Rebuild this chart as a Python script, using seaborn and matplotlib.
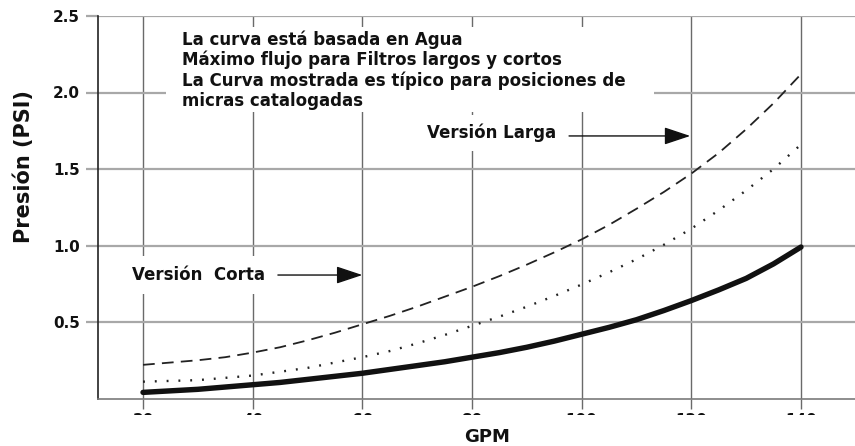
import numpy as np
import pandas as pd
import matplotlib
matplotlib.use("Agg")
import matplotlib.pyplot as plt
from matplotlib.patches import Rectangle
import seaborn as sns

# ---- data ----
gpm = [20, 25, 30, 35, 40, 45, 50, 55, 60, 65, 70, 75, 80,
       85, 90, 95, 100, 105, 110, 115, 120, 125, 130, 135, 140]
larga = [0.220, 0.235, 0.250, 0.270, 0.300, 0.335, 0.380, 0.430, 0.485, 0.540,
         0.600, 0.665, 0.730, 0.800, 0.875, 0.955, 1.040, 1.135, 1.240, 1.350,
         1.470, 1.605, 1.760, 1.930, 2.120]
media = [0.110, 0.115, 0.120, 0.135, 0.150, 0.175, 0.200, 0.235, 0.270, 0.310,
         0.360, 0.415, 0.475, 0.535, 0.600, 0.670, 0.745, 0.825, 0.910, 1.005,
         1.110, 1.230, 1.360, 1.500, 1.660]
corta = [0.040, 0.050, 0.060, 0.075, 0.090, 0.105, 0.125, 0.145, 0.165, 0.190,
         0.215, 0.240, 0.270, 0.300, 0.335, 0.375, 0.420, 0.465, 0.515, 0.575,
         0.640, 0.710, 0.785, 0.880, 0.990]
x_ticks = [20, 40, 60, 80, 100, 120, 140]
y_ticks = [0.5, 1.0, 1.5, 2.0, 2.5]
y_ticklabels = ["0.5", "1.0", "1.5", "2.0", "2.5"]
note = ("La curva está basada en Agua\n"
        "Máximo flujo para Filtros largos y cortos\n"
        "La Curva mostrada es típico para posiciones de\n"
        "micras catalogadas")

sns.set_style("white")
plt.rcParams["font.family"] = ["DejaVu Sans"]
plt.rcParams["font.weight"] = "bold"

W, H = 855, 446
fig = plt.figure(figsize=(W / 100, H / 100), dpi=100)
fig.patch.set_facecolor("white")
ax = fig.add_axes([98 / W, (H - 398.5) / H, 757 / W, 382.5 / H])

df = pd.DataFrame({"gpm": gpm, "larga": larga, "media": media, "corta": corta})

sns.lineplot(data=df, x="gpm", y="larga", ax=ax, color="#222222", lw=1.3, zorder=4)
ax.lines[-1].set_dashes([6.5, 4])
sns.lineplot(data=df, x="gpm", y="media", ax=ax, color="#222222", lw=1.7, zorder=4)
ax.lines[-1].set_dashes([0.8, 4.2])
sns.lineplot(data=df, x="gpm", y="corta", ax=ax, color="#111111", lw=3.9, zorder=4)
ax.lines[-1].set_solid_capstyle("round")
ax.lines[-1].set_solid_joinstyle("round")

ax.set_xlim(11.79, 149.85)
ax.set_ylim(0, 2.5)
ax.set_xticks(x_ticks)
ax.set_xticklabels([str(v) for v in x_ticks], fontsize=11, fontweight="bold")
ax.set_yticks(y_ticks)
ax.set_yticklabels(y_ticklabels, fontsize=11, fontweight="bold")
ax.set_xlabel("")
ax.set_ylabel("")

ax.set_axisbelow(True)
ax.xaxis.grid(True, color="#6a6a6a", lw=1.0)
ax.yaxis.grid(True, color="#a8a8a8", lw=1.6)
ax.tick_params(axis="y", length=8.6, width=1.6, color="#a8a8a8", pad=4.3,
               left=True, labelcolor="#111111")
ax.tick_params(axis="x", length=7.2, width=1.0, color="#6a6a6a", pad=2.9,
               bottom=True, labelcolor="#111111")

for s in ["top", "right"]:
    ax.spines[s].set_visible(False)
ax.spines["left"].set_color("#222222")
ax.spines["left"].set_linewidth(1.2)
ax.spines["bottom"].set_color("#7a7a7a")
ax.spines["bottom"].set_linewidth(1.2)

# white panel behind the note
ax.add_patch(Rectangle((0.0898, 0.749), 0.6447, 0.222, transform=ax.transAxes,
                       facecolor="white", edgecolor="none", zorder=2.5))
ax.text(27.1, 2.405, note, fontsize=12, fontweight="bold", va="top", ha="left",
        linespacing=1.13, color="#111111", zorder=3)

# curve labels with arrows
ax.text(71.8, 1.735, "Versión Larga", fontsize=12, fontweight="bold",
        va="center", ha="left", color="#111111", zorder=3,
        bbox=dict(facecolor="white", edgecolor="none", boxstyle="square,pad=0.5"))
ax.annotate("", xy=(119.8, 1.716), xytext=(97.7, 1.716),
            arrowprops=dict(arrowstyle="-|>,head_length=0.9,head_width=0.3",
                            color="#111111", lw=1.0, mutation_scale=18,
                            shrinkA=0, shrinkB=0), zorder=3)
ax.text(18.0, 0.807, "Versión  Corta", fontsize=12, fontweight="bold",
        va="center", ha="left", color="#111111", zorder=3,
        bbox=dict(facecolor="white", edgecolor="none", boxstyle="square,pad=0.6"))
ax.annotate("", xy=(60.0, 0.807), xytext=(44.6, 0.807),
            arrowprops=dict(arrowstyle="-|>,head_length=0.9,head_width=0.3",
                            color="#111111", lw=1.0, mutation_scale=18,
                            shrinkA=0, shrinkB=0), zorder=3)

# axis titles
fig.text(24 / W, 1 - 167 / H, "Presión (PSI)", rotation=90, fontsize=15,
         fontweight="bold", ha="center", va="center", color="#111111")
fig.text(487 / W, 1 - 437 / H, "GPM", fontsize=13, fontweight="bold",
         ha="center", va="center", color="#111111")

# the reference crops the x tick labels just below their tops
fig.add_artist(Rectangle((0, (H - 427) / H), 1, 12 / H, transform=fig.transFigure,
                         facecolor="white", edgecolor="none", zorder=10))

fig.savefig("out.png", dpi=100, facecolor="white")
